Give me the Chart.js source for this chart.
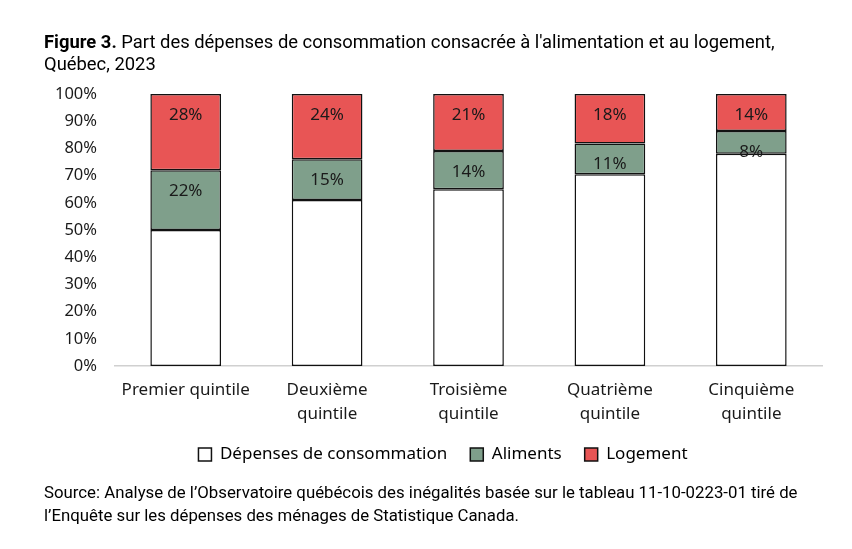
<!DOCTYPE html>
<html>
<head>
<meta charset="utf-8">
<script src="https://cdn.jsdelivr.net/npm/chart.js@4.4.0/dist/chart.umd.min.js"></script>
<style>
  body { margin: 0; background: #fff; }
  #wrap { position: relative; width: 852px; height: 549px; }
  #chart { position: absolute; left: 0; top: 0; }
  .note { position: absolute; left: 44px; color: #000; font-family: "Roboto", sans-serif; white-space: nowrap; }
  #title { top: 31px; font-size: 18.4px; line-height: 22px; }
  #source { top: 481px; font-size: 16.8px; line-height: 23px; }
</style>
</head>
<body>
<div id="wrap">
  <canvas id="chart" width="852" height="549"></canvas>
  <div id="title" class="note"><b>Figure 3.</b> Part des dépenses de consommation consacrée à l'alimentation et au logement,<br>Québec, 2023</div>
  <div id="source" class="note">Source: Analyse de l’Observatoire québécois des inégalités basée sur le tableau 11-10-0223-01 tiré de<br>l’Enquête sur les dépenses des ménages de Statistique Canada.</div>
</div>
<script>
const categories = ['Premier quintile', ['Deuxième', 'quintile'], ['Troisième', 'quintile'], ['Quatrième', 'quintile'], ['Cinquième', 'quintile']];
const depenses = [50, 61, 65, 70.5, 78];
const aliments = [22, 15, 14, 11.3, 8.4];
const logement = [28, 24, 21, 18.2, 13.6];
const yTicks = [0, 10, 20, 30, 40, 50, 60, 70, 80, 90, 100];

const FONT = '"Noto Sans", sans-serif';

// draws the % labels inside the top of the Aliments and Logement segments
const barLabels = {
    id: 'barLabels',
    afterDatasetsDraw(chart) {
        const ctx = chart.ctx;
        ctx.save();
        ctx.font = '17px ' + FONT;
        ctx.fillStyle = '#1a1a1a';
        ctx.textAlign = 'center';
        ctx.textBaseline = 'middle';
        [1, 2].forEach(i => {
            const ds = chart.data.datasets[i];
            chart.getDatasetMeta(i).data.forEach((bar, j) => {
                ctx.fillText(Math.round(ds.data[j]) + '%', bar.x, bar.y + 21);
            });
        });
        ctx.restore();
    }
};

// nudge the legend a bit to the right, like the original
const legendShift = {
    id: 'legendShift',
    afterLayout(chart) {
        if (chart.legend) {
            chart.legend.left += 6;
            chart.legend.right += 6;
        }
    }
};

const ctx = document.getElementById('chart').getContext('2d');
new Chart(ctx, {
    type: 'bar',
    data: {
        labels: categories,
        datasets: [{
            label: 'Dépenses de consommation',
            data: depenses,
            backgroundColor: '#ffffff'
        }, {
            label: 'Aliments',
            data: aliments,
            backgroundColor: '#7f9f8b'
        }, {
            label: 'Logement',
            data: logement,
            backgroundColor: '#e85555'
        }].map(d => Object.assign(d, {
            borderColor: '#111111',
            borderWidth: 1.5,
            borderSkipped: false,
            barPercentage: 0.5,
            categoryPercentage: 1
        }))
    },
    options: {
        responsive: false,
        animation: false,
        layout: { padding: { top: 94, right: 30, left: 52, bottom: 76 } },
        plugins: {
            tooltip: { enabled: false },
            legend: {
                position: 'bottom',
                labels: {
                    font: { family: FONT, size: 17 },
                    color: '#1a1a1a',
                    boxWidth: 13,
                    boxHeight: 13,
                    padding: 23,
                    generateLabels(chart) {
                        return chart.data.datasets.map((d, i) => ({
                            text: d.label,
                            fillStyle: d.backgroundColor,
                            strokeStyle: '#111111',
                            lineWidth: 1.5,
                            datasetIndex: i
                        }));
                    }
                }
            }
        },
        scales: {
            x: {
                stacked: true,
                grid: { display: false, drawTicks: false },
                border: { color: '#d0d0d0', width: 1.5 },
                ticks: { font: { family: FONT, size: 17, lineHeight: 1.4 }, color: '#1a1a1a', padding: 12, maxRotation: 0 },
                afterFit(scale) { scale.height = 57; }
            },
            y: {
                stacked: true,
                min: 0,
                max: 100,
                grid: { display: false, drawTicks: false },
                border: { display: false },
                afterBuildTicks(scale) { scale.ticks = yTicks.map(v => ({ value: v })); },
                ticks: {
                    font: { family: FONT, size: 16.5 },
                    color: '#1a1a1a',
                    padding: 18,
                    callback: v => v + '%'
                },
                afterFit(scale) { scale.width = 63; }
            }
        }
    },
    plugins: [barLabels, legendShift]
});
</script>
</body>
</html>
